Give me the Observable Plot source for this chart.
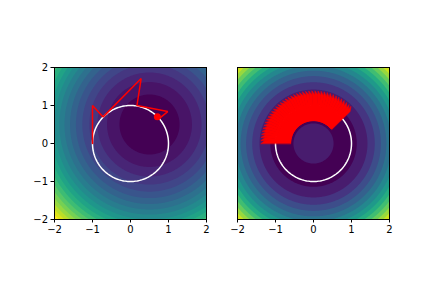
<!DOCTYPE html>
<html><head><meta charset="utf-8">
<script src="https://cdn.jsdelivr.net/npm/d3@7"></script>
<script src="https://cdn.jsdelivr.net/npm/@observablehq/plot@0.6"></script>
<style>
html,body{margin:0;padding:0;background:#fff;}
#fig{position:relative;width:432px;height:288px;overflow:hidden;background:#fff;font-family:"DejaVu Sans",sans-serif;}
#fig .panel{position:absolute;}
</style></head><body><div id="fig"></div>
<script>
// ---- data ----
const tickValues = [-2, -1, 0, 1, 2];
const axisDomain = [-2, 2];

// left panel: field centre, contour levels
const leftCenter = [0.5, 0.5];
const leftLevelStart = 0, leftLevelStep = 0.625, leftLevelCount = 20;

// left panel: trajectory
const pathX = [-1.0, -1.0, -0.72, 0.28, 0.17, 0.98, 0.76];
const pathY = [0.0, 1.0, 0.70, 1.71, 1.0, 0.84, 0.66];
const optimumX = [0.707];
const optimumY = [0.707];

// unit circle
const circleRadius = 1;

// right panel: radial field r^2 + B*exp(-r^2/s)
const rightBump = 1.98, rightBumpScale = 0.7;
const rightLevelStart = 1.088, rightLevelStep = 0.52, rightLevelCount = 14;

// right panel: arrows (angle in degrees), radii of tail / head base / tip
const arrowAngles = [180,176.6,173.2,169.8,166.4,163,159.6,156.2,152.8,149.4,146,142.6,139.2,135.8,132.4,129,125.6,122.2,118.8,115.4,112,108.6,105.2,101.8,98.4,95,91.6,88.2,84.8,81.4,78,74.6,71.2,67.8,64.4,61,57.6,54.2,50.8,47.4,44.5];
const arrowTail = 0.6, arrowHeadBase = 1.27, arrowTip = 1.38;
const arrowBodyWidth = 0.075, arrowHeadWidth = 0.08;

// ---- helpers ----
const fmt = d => d < 0 ? "\u2212" + (-d) : String(d);
const levels = (start, step, n) => Array.from({length: n}, (_, i) => +(start + i * step).toFixed(4));
const leftLevels = levels(leftLevelStart, leftLevelStep, leftLevelCount);
const rightLevels = levels(rightLevelStart, rightLevelStep, rightLevelCount);

const circlePts = d3.range(0, 361, 2).map(a => ({
  x: circleRadius * Math.cos(a * Math.PI / 180),
  y: circleRadius * Math.sin(a * Math.PI / 180)
}));
const pathData = pathX.map((x, i) => ({x, y: pathY[i]}));
const optData = optimumX.map((x, i) => ({x, y: optimumY[i]}));

const arrowPolys = [];
arrowAngles.forEach((deg, id) => {
  const t = deg * Math.PI / 180;
  const u = [Math.cos(t), Math.sin(t)];
  const n = [Math.sin(t), -Math.cos(t)];
  const pt = (r, o) => ({id, x: r * u[0] + o * n[0], y: r * u[1] + o * n[1]});
  arrowPolys.push(pt(arrowTail, 0), pt(arrowTail, arrowBodyWidth), pt(arrowHeadBase, arrowBodyWidth),
                  pt(arrowHeadBase, arrowHeadWidth), pt(arrowTip, 0));
});

const common = {
  height: 174,
  marginTop: 2,
  marginBottom: 20,
  style: {fontSize: "10px", fontFamily: "DejaVu Sans", color: "black", background: "transparent", overflow: "visible"}
};
const xScale = {domain: axisDomain, ticks: tickValues, tickFormat: fmt, tickSize: 3.5, tickPadding: 3, label: null};

const left = Plot.plot({
  ...common,
  width: 184, marginLeft: 30, marginRight: 2,
  x: xScale,
  y: {domain: axisDomain, ticks: tickValues, tickFormat: fmt, tickSize: 3.5, tickPadding: 3, label: null},
  color: {type: "linear", scheme: "viridis", domain: [leftLevels[0], leftLevels[leftLevels.length - 1]]},
  marks: [
    Plot.contour({
      x1: -2, y1: -2, x2: 2, y2: 2, pixelSize: 1,
      value: (x, y) => (x - leftCenter[0]) ** 2 + (y - leftCenter[1]) ** 2,
      thresholds: leftLevels, fill: "value", stroke: "none"
    }),
    Plot.line(circlePts, {x: "x", y: "y", stroke: "white", strokeWidth: 1.5}),
    Plot.line(pathData, {x: "x", y: "y", stroke: "red", strokeWidth: 1.5, strokeLinejoin: "miter"}),
    Plot.dot(optData, {x: "x", y: "y", r: 3.5, fill: "red", stroke: "none"}),
    Plot.frame({stroke: "black", strokeWidth: 1})
  ]
});

const right = Plot.plot({
  ...common,
  width: 156, marginLeft: 2, marginRight: 2,
  x: xScale,
  y: {domain: axisDomain, axis: null},
  color: {type: "linear", scheme: "viridis", domain: [rightLevels[0], rightLevels[rightLevels.length - 1]]},
  marks: [
    Plot.contour({
      x1: -2, y1: -2, x2: 2, y2: 2, pixelSize: 1,
      value: (x, y) => { const r2 = x * x + y * y; return r2 + rightBump * Math.exp(-r2 / rightBumpScale); },
      thresholds: rightLevels, fill: "value", stroke: "none"
    }),
    Plot.line(circlePts, {x: "x", y: "y", stroke: "white", strokeWidth: 1.5}),
    Plot.line(arrowPolys, {x: "x", y: "y", z: "id", curve: "linear-closed", fill: "red", stroke: "red", strokeWidth: 0.6}),
    Plot.frame({stroke: "black", strokeWidth: 1})
  ]
});

const fig = document.getElementById("fig");
left.classList.add("panel"); left.style.left = "24px"; left.style.top = "65px";
right.classList.add("panel"); right.style.left = "235px"; right.style.top = "65px";
fig.appendChild(left);
fig.appendChild(right);
</script></body></html>
